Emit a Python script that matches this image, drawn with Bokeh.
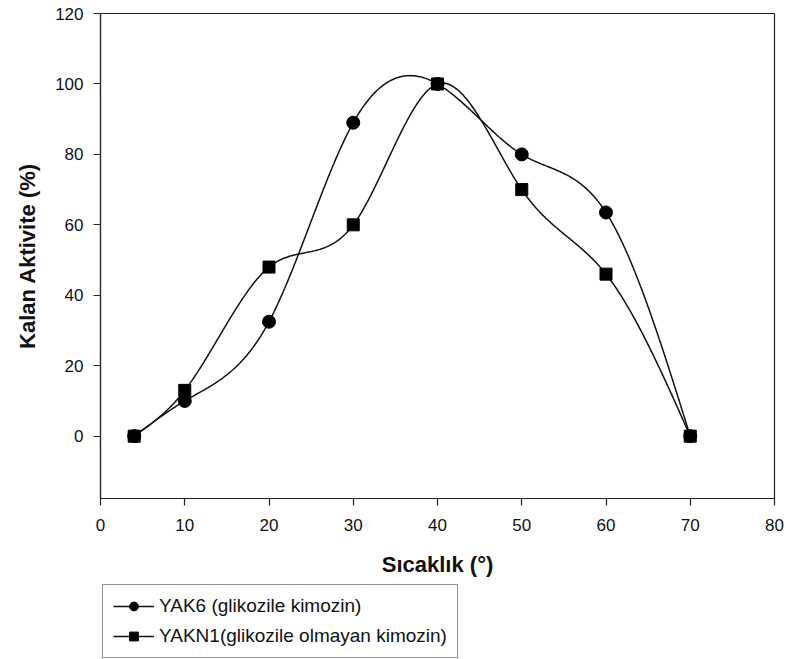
import numpy as np
from bokeh.plotting import figure
from bokeh.layouts import column
from bokeh.models import Legend, LegendItem, Range1d, FixedTicker
from bokeh.embed import file_html
from bokeh.resources import INLINE

temps = [4, 10, 20, 30, 40, 50, 60, 70]
yak6 = [0, 10, 32.5, 89, 100, 80, 63.5, 0]
yakn1 = [0, 13, 48, 60, 100, 70, 46, 0]
x_ticks = [0, 10, 20, 30, 40, 50, 60, 70, 80]
y_ticks = [0, 20, 40, 60, 80, 100, 120]
name1 = "YAK6 (glikozile kimozin)"
name2 = "YAKN1(glikozile olmayan kimozin)"


def natural_spline(xs, ys, n=400):
    x = np.asarray(xs, float)
    y = np.asarray(ys, float)
    k = len(x)
    h = np.diff(x)
    A = np.zeros((k, k))
    b = np.zeros(k)
    A[0, 0] = 1
    A[-1, -1] = 1
    for i in range(1, k - 1):
        A[i, i - 1] = h[i - 1]
        A[i, i] = 2 * (h[i - 1] + h[i])
        A[i, i + 1] = h[i]
        b[i] = 3 * ((y[i + 1] - y[i]) / h[i] - (y[i] - y[i - 1]) / h[i - 1])
    c = np.linalg.solve(A, b)
    xx = np.linspace(x[0], x[-1], n)
    idx = np.clip(np.searchsorted(x, xx) - 1, 0, k - 2)
    dx = xx - x[idx]
    bb = (y[idx + 1] - y[idx]) / h[idx] - h[idx] * (2 * c[idx] + c[idx + 1]) / 3
    dd = (c[idx + 1] - c[idx]) / (3 * h[idx])
    yy = y[idx] + bb * dx + c[idx] * dx ** 2 + dd * dx ** 3
    return xx, yy


FONT = "Liberation Sans"
INK = "#111111"

p = figure(frame_width=674, frame_height=485, output_backend="svg",
           toolbar_location=None, x_range=Range1d(0, 80), y_range=Range1d(-17.7, 120),
           min_border_left=100, min_border_right=12, min_border_top=13, min_border_bottom=80)
p.background_fill_color = "white"
p.border_fill_color = "white"
p.outline_line_color = "#222222"
p.outline_line_width = 1.2
p.xgrid.visible = False
p.ygrid.visible = False

for ax in (p.xaxis[0], p.yaxis[0]):
    ax.axis_line_color = "#222222"
    ax.axis_line_width = 1.2
    ax.major_tick_line_color = "#222222"
    ax.major_tick_line_width = 1.2
    ax.major_tick_in = 0
    ax.major_tick_out = 7
    ax.minor_tick_line_color = None
    ax.major_label_text_font = FONT
    ax.major_label_text_font_size = "17px"
    ax.major_label_text_color = INK
    ax.axis_label_text_font = FONT
    ax.axis_label_text_font_style = "bold"
    ax.axis_label_text_font_size = "22px"
    ax.axis_label_text_color = INK

p.xaxis.ticker = FixedTicker(ticks=x_ticks)
p.yaxis.ticker = FixedTicker(ticks=y_ticks)
p.xaxis.axis_label = "Sıcaklık (°)"
p.yaxis.axis_label = "Kalan Aktivite (%)"
p.xaxis.major_label_standoff = 13
p.xaxis.axis_label_standoff = 18
p.yaxis.major_label_standoff = 10
p.yaxis.axis_label_standoff = 12

sx1, sy1 = natural_spline(temps, yak6)
sx2, sy2 = natural_spline(temps, yakn1)

p.line(sx1, sy1, line_color=INK, line_width=1.5)
p.line(sx2, sy2, line_color=INK, line_width=1.5)
p.scatter(temps, yak6, marker="circle", size=13, fill_color="black", line_color="black")
p.scatter(temps, yakn1, marker="square", size=12, fill_color="black", line_color="black")

# Legend panel below the chart: its own figure, the series drawn out of view so only the keys show
q = figure(width=786, height=81, output_backend="svg", toolbar_location=None,
           x_range=Range1d(1000, 1001), y_range=Range1d(1000, 1001),
           x_axis_location=None, y_axis_location=None,
           min_border_left=0, min_border_right=0, min_border_top=0, min_border_bottom=0)
q.grid.visible = False
q.outline_line_color = None
q.background_fill_color = "white"
q.border_fill_color = "white"
k1 = q.line(sx1, sy1, line_color=INK, line_width=1.5)
k1m = q.scatter(temps, yak6, marker="circle", size=11, fill_color="black", line_color="black")
k2 = q.line(sx2, sy2, line_color=INK, line_width=1.5)
k2m = q.scatter(temps, yakn1, marker="square", size=10, fill_color="black", line_color="black")

legend = Legend(items=[LegendItem(label=name1, renderers=[k1, k1m]),
                       LegendItem(label=name2, renderers=[k2, k2m])],
                location=(2, 2), orientation="vertical")
legend.label_text_font = FONT
legend.label_text_font_size = "19px"
legend.label_text_color = INK
legend.border_line_color = "#222222"
legend.border_line_width = 1.2
legend.background_fill_color = "white"
legend.glyph_width = 41
legend.glyph_height = 22
legend.label_height = 22
legend.spacing = 8
legend.padding = 10
legend.margin = 0
legend.label_standoff = 5
q.add_layout(legend, "center")

layout = column(p, q, spacing=0)
open("out.html", "w").write(file_html(layout, INLINE))
